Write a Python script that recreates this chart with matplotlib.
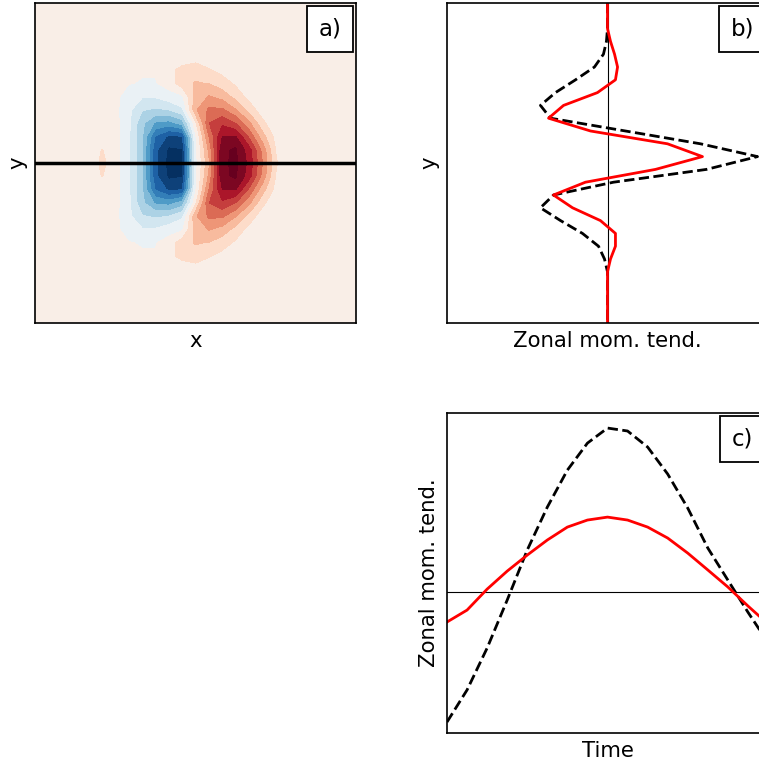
import numpy as np
import matplotlib
matplotlib.use('Agg')
import matplotlib.pyplot as plt

# Panel a: zonal-momentum field on a 25 x 25 grid, upper half (rows 4..12, cols 5..19)
# rows are counted from the top, row 12 is the centre line; the lower half is the mirror
field_rows = np.arange(4, 13)
field_cols = np.arange(5, 20)
field_upper = np.array([
    [0.00, 0.00, 0.00, 0.00, 0.00, 0.02, 0.06, 0.08, 0.06, 0.03, 0.00, 0.00, 0.00, 0.00, 0.00],
    [0.00, 0.00, 0.01, 0.01, 0.01, 0.10, 0.15, 0.17, 0.13, 0.08, 0.03, 0.00, 0.00, 0.00, 0.00],
    [0.00, 0.01, 0.004, -0.008, -0.008, 0.05, 0.20, 0.26, 0.24, 0.18, 0.10, 0.03, 0.00, 0.00, 0.00],
    [0.00, 0.02, -0.04, -0.11, -0.11, -0.05, -0.02, 0.30, 0.38, 0.32, 0.20, 0.08, 0.01, 0.00, 0.00],
    [0.00, 0.03, -0.09, -0.24, -0.27, -0.25, -0.15, 0.35, 0.52, 0.52, 0.38, 0.20, 0.05, 0.00, 0.00],
    [0.00, 0.04, -0.10, -0.34, -0.52, -0.55, -0.45, 0.10, 0.62, 0.72, 0.62, 0.40, 0.16, 0.02, 0.00],
    [0.00, 0.05, -0.10, -0.36, -0.76, -0.90, -0.88, -0.02, 0.50, 0.87, 0.88, 0.60, 0.30, 0.08, 0.01],
    [0.13, 0.05, -0.10, -0.37, -0.84, -1.03, -1.01, -0.04, 0.40, 0.97, 1.02, 0.80, 0.46, 0.12, 0.02],
    [0.16, 0.05, -0.10, -0.37, -0.85, -1.05, -1.03, -0.05, 0.35, 0.98, 1.02, 0.84, 0.50, 0.14, 0.02],
])
n_grid = 25

# Panel b: profiles along y (26 points, listed from top to bottom)
profile_full = [0, 0, 0, -0.007, -0.027, -0.087, -0.213, -0.347, -0.447, -0.38, 0.12, 0.62, 1.0,
                0.66, 0.04, -0.36, -0.447, -0.313, -0.167, -0.06, -0.02, 0, 0, 0, 0, 0]
profile_red = [0, 0, 0, 0.02, 0.047, 0.067, 0.053, -0.067, -0.293, -0.393, -0.113, 0.40, 0.633,
               0.32, -0.147, -0.36, -0.233, -0.047, 0.053, 0.053, 0.02, 0, 0, 0, 0, 0]

# Panel c: time series (17 points)
time_full = [-0.796, -0.600, -0.344, -0.051, 0.255, 0.517, 0.743, 0.908, 1.0, 0.982,
             0.884, 0.719, 0.511, 0.267, 0.071, -0.125, -0.31]
time_red = [-0.185, -0.112, 0.016, 0.126, 0.224, 0.316, 0.395, 0.438, 0.456, 0.438,
            0.395, 0.328, 0.236, 0.133, 0.029, -0.087, -0.197]

# build the full field
field = np.zeros((n_grid, n_grid))
for r, row in zip(field_rows, field_upper):
    field[r, field_cols] = row
    field[n_grid - 1 - r, field_cols] = row
field = field[::-1]  # rows from bottom for plotting

fig = plt.figure(figsize=(7.59, 7.66), dpi=100)
W, H = 759, 766

def add_axes(left, top, w=321, h=320):
    return fig.add_axes([left / W, (H - top - h) / H, w / W, h / H])

ax_a = add_axes(35, 3)
ax_b = add_axes(447, 3)
ax_c = add_axes(447, 413)

label_kw = dict(fontsize=15.3, labelpad=5.5)
box_kw = dict(boxstyle='square,pad=0.5', fc='white', ec='black', lw=1.3)

# a) contour field
eps = 1e-3
levels = np.linspace(-1, 1, 17) - eps
xg = np.arange(n_grid)
yg = np.arange(n_grid)
ax_a.contourf(xg, yg, field, levels=levels, cmap='RdBu_r', extend='both')
ax_a.axhline(12, color='black', lw=2.5)
ax_a.set_xlim(0, n_grid - 1)
ax_a.set_ylim(0, n_grid - 1)
ax_a.set_xlabel('x', **label_kw)
ax_a.set_ylabel('y', **label_kw)

# b) meridional profile
yb = np.arange(len(profile_full))[::-1]
ax_b.axvline(0, color='black', lw=0.8)
ax_b.plot(profile_full, yb, color='black', ls='--', lw=2)
ax_b.plot(profile_red, yb, color='red', lw=2)
ax_b.set_xlim(-1.07, 1.07)
ax_b.set_ylim(0, len(profile_full) - 1)
ax_b.set_xlabel('Zonal mom. tend.', **label_kw)
ax_b.set_ylabel('y', **label_kw)

# c) time series
tc = np.arange(len(time_full))
ax_c.axhline(0, color='black', lw=0.8)
ax_c.plot(tc, time_full, color='black', ls='--', lw=2)
ax_c.plot(tc, time_red, color='red', lw=2)
ax_c.set_xlim(0, len(time_full) - 1)
ax_c.set_ylim(-0.863, 1.092)
ax_c.set_xlabel('Time', **label_kw)
ax_c.set_ylabel('Zonal mom. tend.', **label_kw)

for ax, lab in [(ax_a, 'a)'), (ax_b, 'b)'), (ax_c, 'c)')]:
    ax.set_xticks([])
    ax.set_yticks([])
    for s in ax.spines.values():
        s.set_linewidth(1.2)
    ax.text(0.92, 0.92, lab, transform=ax.transAxes, ha='center', va='center',
            fontsize=16.5, bbox=box_kw, zorder=10)

fig.savefig('out.png', dpi=100)
